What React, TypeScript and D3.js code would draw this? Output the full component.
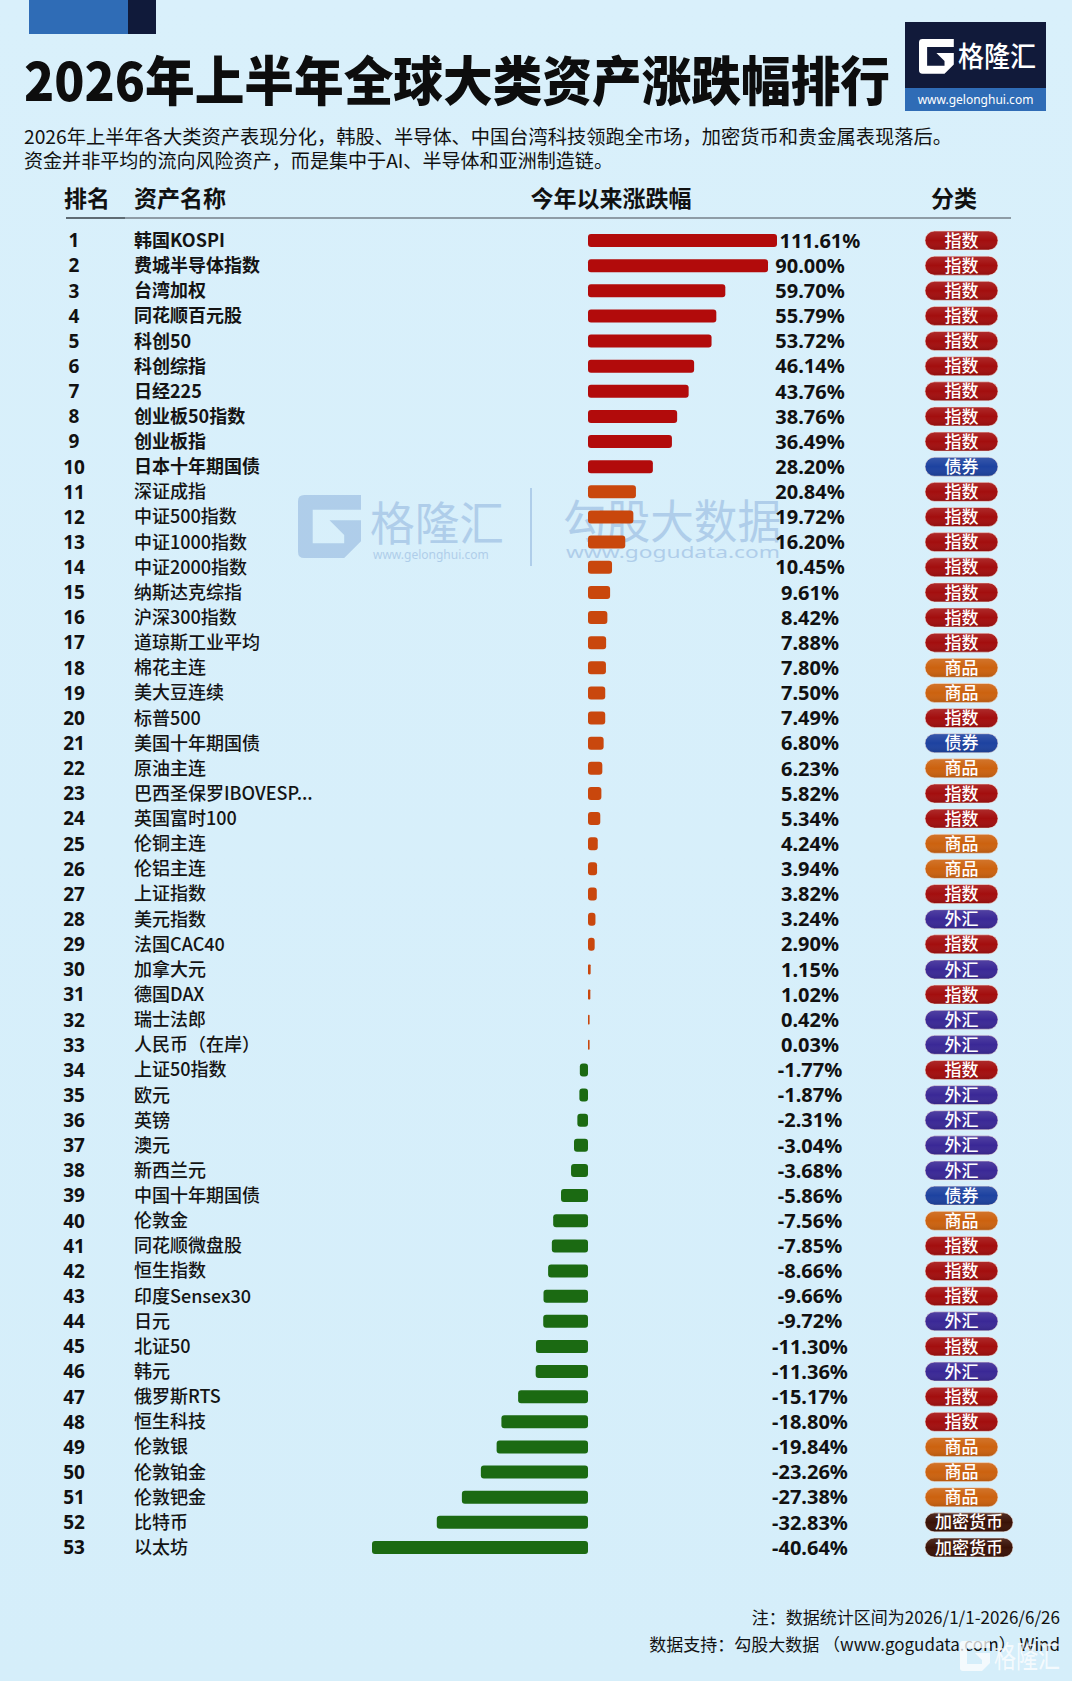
import React from "react";
import * as d3 from "d3";

const ranks = d3.range(1, 54);
const names = [
  "韩国KOSPI", "费城半导体指数", "台湾加权", "同花顺百元股", "科创50", "科创综指", "日经225", "创业板50指数", "创业板指", "日本十年期国债",
  "深证成指", "中证500指数", "中证1000指数", "中证2000指数", "纳斯达克综指", "沪深300指数", "道琼斯工业平均", "棉花主连", "美大豆连续", "标普500",
  "美国十年期国债", "原油主连", "巴西圣保罗IBOVESP...", "英国富时100", "伦铜主连", "伦铝主连", "上证指数", "美元指数", "法国CAC40", "加拿大元",
  "德国DAX", "瑞士法郎", "人民币（在岸）", "上证50指数", "欧元", "英镑", "澳元", "新西兰元", "中国十年期国债", "伦敦金",
  "同花顺微盘股", "恒生指数", "印度Sensex30", "日元", "北证50", "韩元", "俄罗斯RTS", "恒生科技", "伦敦银", "伦敦铂金",
  "伦敦钯金", "比特币", "以太坊",
];
const values = [
  111.61, 90.0, 59.7, 55.79, 53.72, 46.14, 43.76, 38.76, 36.49, 28.2,
  20.84, 19.72, 16.2, 10.45, 9.61, 8.42, 7.88, 7.8, 7.5, 7.49,
  6.8, 6.23, 5.82, 5.34, 4.24, 3.94, 3.82, 3.24, 2.9, 1.15,
  1.02, 0.42, 0.03, -1.77, -1.87, -2.31, -3.04, -3.68, -5.86, -7.56,
  -7.85, -8.66, -9.66, -9.72, -11.3, -11.36, -15.17, -18.8, -19.84, -23.26,
  -27.38, -32.83, -40.64,
];
const categories = [
  "指数", "指数", "指数", "指数", "指数", "指数", "指数", "指数", "指数", "债券",
  "指数", "指数", "指数", "指数", "指数", "指数", "指数", "商品", "商品", "指数",
  "债券", "商品", "指数", "指数", "商品", "商品", "指数", "外汇", "指数", "外汇",
  "指数", "外汇", "外汇", "指数", "外汇", "外汇", "外汇", "外汇", "债券", "商品",
  "指数", "指数", "指数", "外汇", "指数", "外汇", "指数", "指数", "商品", "商品",
  "商品", "加密货币", "加密货币",
];
const categoryNames = ["指数", "债券", "商品", "外汇", "加密货币"];
const categoryColors = ["#a30e0e", "#1d42a0", "#cc620f", "#3a2896", "#3a1207"];
const headers = ["排名", "资产名称", "今年以来涨跌幅", "分类"];
const title = "2026年上半年全球大类资产涨跌幅排行";
const subtitle = [
  "2026年上半年各大类资产表现分化，韩股、半导体、中国台湾科技领跑全市场，加密货币和贵金属表现落后。",
  "资金并非平均的流向风险资产，而是集中于AI、半导体和亚洲制造链。",
];
const footnotes = ["注：数据统计区间为2026/1/1-2026/6/26", "数据支持：勾股大数据 （www.gogudata.com） Wind"];

const W = 1072;
const H = 1681;
const CJK = '"Noto Sans CJK SC", "Noto Sans", sans-serif';
const NUM = '"Noto Sans", "Noto Sans CJK SC", sans-serif';

// broken-axis scale: the infographic compresses the extremes
const y = d3.scalePoint<number>().domain(ranks).range([240.5, 1547.5]);
const x = d3
  .scaleLinear()
  .domain([d3.min(values) as number, -33, 0, 60, 90, d3.max(values) as number])
  .range([372, 436, 588, 726, 768, 777]);
const catColor = d3.scaleOrdinal<string, string>().domain(categoryNames).range(categoryColors);

function barColor(rank: number, v: number) {
  if (rank <= 10) return "#b20b0b";
  if (v >= 0) return "#c9470d";
  return "#1b6a12";
}

function labelWidth(s: string) {
  let w = 0;
  for (const c of s) {
    if (c === ".") w += 5.6;
    else if (c === "%") w += 17.2;
    else if (c === "-") w += 6.4;
    else w += 11.4;
  }
  return w;
}

const gIcon = "M60,0 H6 Q0,0 0,6 V54 Q0,60 6,60 H44 L60,44 V24 H30 L44,38 V46 H14 V14 H60 Z";

export default function App() {
  const rows = ranks.map((r, i) => ({ rank: r, name: names[i], value: values[i], cat: categories[i] }));
  return (
    <div style={{ position: "absolute", left: 0, top: 0, width: W, height: H }}>
      <svg width={W} height={H} viewBox={`0 0 ${W} ${H}`} style={{ display: "block" }}>
        <defs>
          <linearGradient id="bgGrad" x1="0" y1="0" x2="0" y2="1">
            <stop offset="0" stopColor="#d9f0fb" />
            <stop offset="1" stopColor="#d5eefa" />
          </linearGradient>
          <linearGradient id="pillGloss" x1="0" y1="0" x2="0" y2="1">
            <stop offset="0" stopColor="#ffffff" stopOpacity="0.12" />
            <stop offset="0.5" stopColor="#ffffff" stopOpacity="0" />
            <stop offset="1" stopColor="#000000" stopOpacity="0.12" />
          </linearGradient>
        </defs>
        <rect x={0} y={0} width={W} height={H} fill="url(#bgGrad)" />

        {/* top decoration */}
        <rect x={29} y={0} width={100} height={34} fill="#2f6cb6" />
        <rect x={128} y={0} width={28} height={34} fill="#101a3a" />

        {/* title */}
        <text x={24} y={101} fontFamily={CJK} fontWeight={900} fontSize={53} fill="#0d0d0d" textLength={866} lengthAdjust="spacingAndGlyphs">
          {title}
        </text>

        {/* logo box */}
        <rect x={905} y={22} width={141} height={67} fill="#111a3a" />
        <rect x={905} y={88} width={141} height={23} fill="#2f6cb6" />
        <path d={gIcon} transform="translate(919,39) scale(0.58)" fill="#ffffff" />
        <text x={958} y={67} fontFamily={CJK} fontWeight={500} fontSize={28} fill="#ffffff" textLength={78} lengthAdjust="spacingAndGlyphs">
          格隆汇
        </text>
        <text x={975.5} y={104} textAnchor="middle" fontFamily={NUM} fontSize={12} fill="#ffffff">
          www.gelonghui.com
        </text>

        {/* subtitle */}
        <text x={24} y={144} fontFamily={CJK} fontSize={19} fill="#111" textLength={928} lengthAdjust="spacingAndGlyphs">
          {subtitle[0]}
        </text>
        <text x={24} y={168} fontFamily={CJK} fontSize={19} fill="#111" textLength={589} lengthAdjust="spacingAndGlyphs">
          {subtitle[1]}
        </text>

        {/* watermark */}
        <g opacity={0.45} fill="#7fa6d6">
          <path d={gIcon} transform="translate(298,495) scale(1.05)" />
          <text x={370} y={540} fontFamily={CJK} fontSize={46} textLength={134} lengthAdjust="spacingAndGlyphs">格隆汇</text>
          <text x={373} y={559} fontFamily={NUM} fontSize={12}>www.gelonghui.com</text>
          <rect x={530} y={488} width={2} height={78} />
          <text x={563} y={538} fontFamily={CJK} fontSize={46} textLength={218} lengthAdjust="spacingAndGlyphs">勾股大数据</text>
          <text x={566} y={558} fontFamily={NUM} fontSize={17} textLength={214} lengthAdjust="spacingAndGlyphs">www.gogudata.com</text>
        </g>

        {/* header */}
        <g fontFamily={CJK} fontWeight={700} fontSize={23} fill="#111">
          <text x={64} y={207}>{headers[0]}</text>
          <text x={134} y={207}>{headers[1]}</text>
          <text x={611} y={207} textAnchor="middle">{headers[2]}</text>
          <text x={954} y={207} textAnchor="middle">{headers[3]}</text>
        </g>
        <line x1={66} x2={1011} y1={218} y2={218} stroke="#8e9ca6" strokeWidth={2} />
        <line x1={66} x2={125} y1={218} y2={218} stroke="#5f6b73" strokeWidth={2} />

        {/* rows */}
        {rows.map((d) => {
          const cy = y(d.rank) as number;
          const x0 = x(0);
          const xv = x(d.value);
          const bx = Math.min(x0, xv);
          const bw = Math.max(Math.abs(xv - x0), 1.6);
          const thin = Math.abs(xv - x0) < 3;
          const bh = thin ? 10 : 13;
          const label = d.value.toFixed(2) + "%";
          const lw = labelWidth(label);
          const lx = Math.max(810, (d.value > 0 ? xv : x0) + 3 + lw / 2);
          const pillW = d.cat.length > 2 ? 88 : 73;
          return (
            <g key={d.rank}>
              <text x={74} y={cy} dy="0.36em" textAnchor="middle" fontFamily={NUM} fontWeight={700} fontSize={19} fill="#111">
                {d.rank}
              </text>
              <text x={134} y={cy} dy="0.36em" fontFamily={CJK} fontWeight={d.rank <= 10 ? 700 : 500} fontSize={18} fill="#141414">
                {d.name}
              </text>
              <rect x={bx} y={cy - bh / 2} width={bw} height={bh} rx={thin ? 0.8 : 3} fill={barColor(d.rank, d.value)} />
              <text x={lx} y={cy} dy="0.36em" textAnchor="middle" fontFamily={NUM} fontWeight={700} fontSize={20} fill="#111">
                {label}
              </text>
              <rect x={925} y={cy - 9.5} width={pillW} height={19} rx={9.5} fill={catColor(d.cat)} stroke="#f4e6e0" strokeOpacity={0.6} strokeWidth={1} />
              <rect x={925} y={cy - 9.5} width={pillW} height={19} rx={9.5} fill="url(#pillGloss)" />
              <text x={925 + pillW / 2} y={cy} dy="0.36em" textAnchor="middle" fontFamily={CJK} fontWeight={500} fontSize={17} fill="#ffffff">
                {d.cat}
              </text>
            </g>
          );
        })}

        {/* footer */}
        <g fontFamily={CJK} fontSize={17} fill="#111" textAnchor="end">
          <text x={1060} y={1624}>{footnotes[0]}</text>
          <text x={1060} y={1651}>{footnotes[1]}</text>
        </g>
        <g opacity={0.75} fill="#ffffff">
          <path d={gIcon} transform="translate(960,1641) scale(0.5)" />
          <text x={994} y={1667} fontFamily={CJK} fontSize={30} textLength={66} lengthAdjust="spacingAndGlyphs">格隆汇</text>
        </g>
      </svg>
    </div>
  );
}
